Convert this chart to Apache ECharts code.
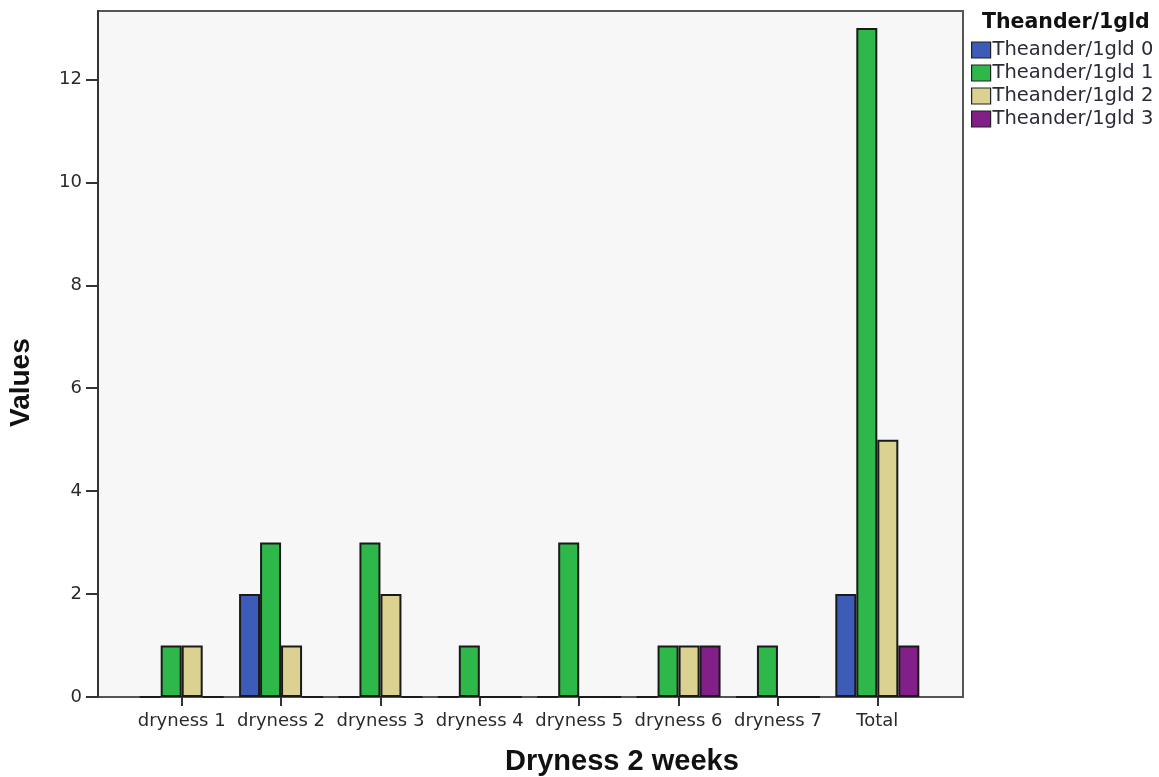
<!DOCTYPE html>
<html>
<head>
<meta charset="utf-8">
<script src="https://cdn.jsdelivr.net/npm/echarts@6/dist/echarts.min.js"></script>
<style>html,body{margin:0;padding:0;background:#fff}#c{width:1159px;height:777px}</style>
</head>
<body>
<div id="c"></div>
<script>
const categories = ['dryness 1','dryness 2','dryness 3','dryness 4','dryness 5','dryness 6','dryness 7','Total'];
const seriesNames = ['Theander/1gld 0','Theander/1gld 1','Theander/1gld 2','Theander/1gld 3'];
const values0 = [0,2,0,0,0,0,0,2];
const values1 = [1,3,3,1,3,1,1,13];
const values2 = [1,1,2,0,0,1,0,5];
const values3 = [0,0,0,0,0,1,0,1];
const yTicks = [0,2,4,6,8,10,12];
const legendTitle = 'Theander/1gld';
const xTitle = 'Dryness 2 weeks';
const yTitle = 'Values';

const colors = ['#3d5cb8','#2fb84a','#dbd291','#821f88'];
const allValues = [values0, values1, values2, values3];
const yMax = 13.33;

const chart = echarts.init(document.getElementById('c'), null, {renderer:'canvas'});
const tickFont = 'DejaVu Sans';
chart.setOption({
  backgroundColor:'#ffffff',
  animation:false,
  color: colors,
  title:{
    text: legendTitle, left: 977, top: 7,
    textStyle:{fontFamily:'DejaVu Sans', fontWeight:'bold', fontSize:20.5, color:'#111'}
  },
  legend:{
    data: seriesNames, orient:'vertical', left: 966, top: 35,
    itemWidth: 19, itemHeight: 16, itemGap: 3, icon:'rect',
    textStyle:{fontFamily:tickFont, fontSize:19.5, color:'#2a2a38', padding:[0,0,0,-3]},
    itemStyle:{borderColor:'#222', borderWidth:1.2}
  },
  grid:[
    {left:98, top:11, width:865, bottom:80, show:true, backgroundColor:'#f7f7f7', borderColor:'#555', borderWidth:2},
    {left:132, top:11, width:795, bottom:80}
  ],
  xAxis:[
    {type:'value', gridIndex:0, show:false, min:0, max:1},
    {type:'category', gridIndex:1, data:categories,
     axisLine:{show:false},
     axisTick:{show:true, alignWithLabel:true, length:9, lineStyle:{color:'#333', width:2}},
     axisLabel:{interval:0, margin:15, fontFamily:tickFont, fontSize:18, color:'#2a2a2a'}
    }
  ],
  yAxis:[
    {type:'value', gridIndex:0, min:0, max:yMax, interval:2,
     axisLine:{show:true, lineStyle:{color:'#333', width:2}},
     axisTick:{show:true, length:12, lineStyle:{color:'#333', width:2}},
     axisLabel:{margin:16, fontFamily:tickFont, fontSize:18, color:'#2a2a2a', showMaxLabel:false,
       formatter: v => yTicks.indexOf(v) >= 0 ? String(v) : ''},
     splitLine:{show:false}
    },
    {type:'value', gridIndex:1, min:0, max:yMax, show:false, splitLine:{show:false}}
  ],
  graphic:[
    {type:'text', left: 505, top: 747, style:{text:xTitle, fontFamily:'Liberation Sans', fontWeight:'bold', fontSize:29, fill:'#111'}},
    {type:'text', x: 7, y: 427, rotation: Math.PI/2, style:{text:yTitle, fontFamily:'Liberation Sans', fontWeight:'bold', fontSize:28, fill:'#111'}}
  ],
  series: seriesNames.map((n,i)=>({
    name:n, type:'bar', xAxisIndex:1, yAxisIndex:1, data: allValues[i],
    barWidth:21, barGap:'0%',
    itemStyle:{color:colors[i], borderColor:'#1a1a1a', borderWidth:2}
  }))
});
</script>
</body>
</html>
